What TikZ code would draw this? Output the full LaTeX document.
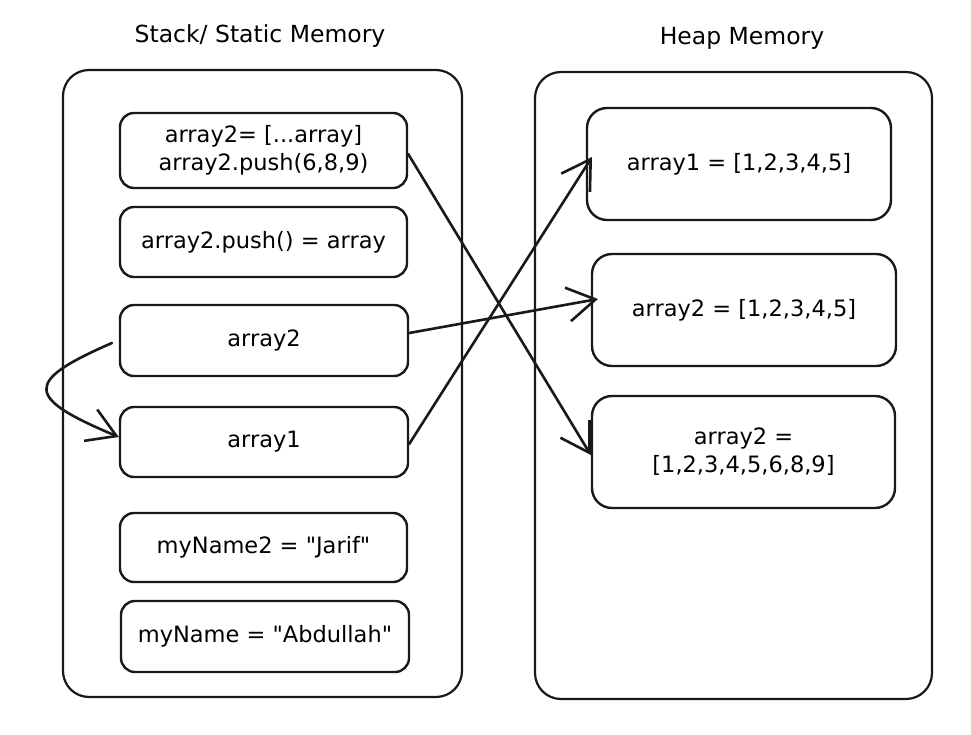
\documentclass[tikz,border=0pt]{standalone}
\usepackage{fontspec}
\setmainfont{DejaVu Sans}[Ligatures=TeXOff]
\usetikzlibrary{arrows.meta}
\begin{document}
\begin{tikzpicture}[x=1pt,y=-1pt,
  outer/.style={draw=black!90, line width=2.2pt, rounded corners=26pt},
  cell/.style={draw=black!90, line width=2.4pt, rounded corners=14pt, align=center, font=\fontsize{22.5}{28}\selectfont},
  title/.style={font=\fontsize{23.5}{28}\selectfont},
  link/.style={draw=black!90, line width=2.6pt, line cap=round, -{Straight Barb[length=28pt,width=34pt,line width=2.6pt]}}
]
\useasboundingbox (0,0) rectangle (971,735);
\node[title] (t1) at (260,36) {Stack/ Static Memory};
\node[title] (t2) at (742,38) {Heap Memory};
\draw[outer] (63,70) rectangle (462,697);
\draw[outer] (535,72) rectangle (932,699);
% stack cells
\node[cell, minimum width=287pt, minimum height=75pt] (s1) at (263.5,150.5) {array2= [...array]\\{}array2.push(6,8,9)};
\node[cell, minimum width=287pt, minimum height=70pt] (s2) at (263.5,242) {array2.push() = array};
\node[cell, minimum width=288pt, minimum height=71pt] (s3) at (264,340.5) {array2};
\node[cell, minimum width=288pt, minimum height=70pt] (s4) at (264,442) {array1};
\node[cell, minimum width=287pt, minimum height=69pt] (s5) at (263.5,547.5) {myName2 = "Jarif"};
\node[cell, minimum width=288pt, minimum height=71pt] (s6) at (265,636.5) {myName = "Abdullah"};
% heap cells
\node[cell, minimum width=304pt, minimum height=112pt, rounded corners=20pt] (h1) at (739,164) {array1 = [1,2,3,4,5]};
\node[cell, minimum width=304pt, minimum height=112pt, rounded corners=20pt] (h2) at (744,310) {array2 = [1,2,3,4,5]};
\node[cell, minimum width=303pt, minimum height=112pt, rounded corners=20pt] (h3) at (743.5,452) {array2 =\\{}[1,2,3,4,5,6,8,9]};
% connectors
\coordinate (c1) at (112,343);
\draw[link] (s1.east |- 0,154) -- (h3.west |- 0,455);
\draw[link] (s3.east |- 0,333) -- (598,299);
\draw[link] (s4.east |- 0,444) -- (592,157);
\draw[link] (c1) .. controls (22,382) and (26,398) .. (s4.west |- 0,437);
\end{tikzpicture}
\end{document}
